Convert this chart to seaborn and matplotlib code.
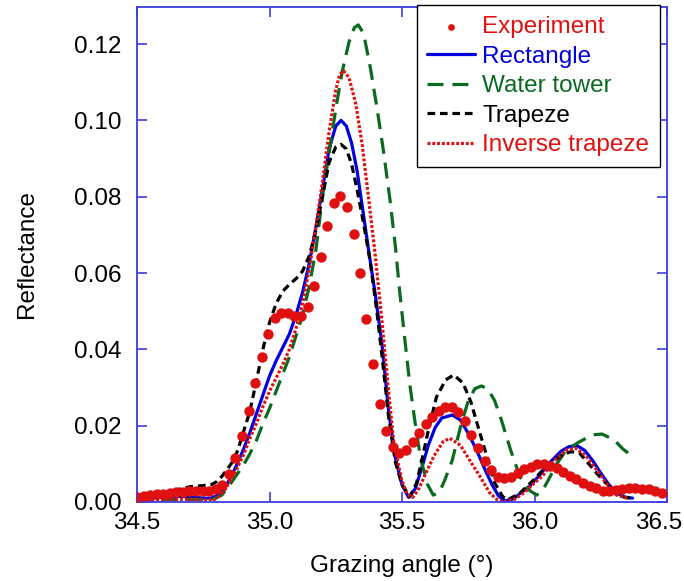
import numpy as np
import pandas as pd
import matplotlib
matplotlib.use("Agg")
import matplotlib.pyplot as plt
import matplotlib.transforms as mtransforms
import seaborn as sns

# ---------------- data ----------------
exp_x = [34.500, 34.525, 34.550, 34.574, 34.599, 34.624, 34.649, 34.673, 34.698, 34.723,
         34.748, 34.772, 34.797, 34.822, 34.847, 34.871, 34.896, 34.921, 34.946, 34.970,
         34.995, 35.020, 35.045, 35.069, 35.094, 35.119, 35.144, 35.168, 35.193, 35.218,
         35.243, 35.267, 35.292, 35.317, 35.342, 35.366, 35.391, 35.416, 35.441, 35.465,
         35.490, 35.515, 35.540, 35.564, 35.589, 35.614, 35.639, 35.663, 35.688, 35.713,
         35.738, 35.762, 35.787, 35.812, 35.837, 35.861, 35.886, 35.911, 35.936, 35.960,
         35.985, 36.010, 36.035, 36.059, 36.084, 36.109, 36.134, 36.158, 36.183, 36.208,
         36.233, 36.257, 36.282, 36.307, 36.332, 36.356, 36.381, 36.406, 36.431, 36.455,
         36.480]
exp_y = [0.0014, 0.0016, 0.0018, 0.0020, 0.0022, 0.0024, 0.0026, 0.0027, 0.0028, 0.0028,
         0.0028, 0.0030, 0.0034, 0.0045, 0.0073, 0.0116, 0.0174, 0.0239, 0.0312, 0.0381,
         0.0440, 0.0482, 0.0495, 0.0495, 0.0488, 0.0488, 0.0512, 0.0567, 0.0643, 0.0723,
         0.0783, 0.0803, 0.0772, 0.0702, 0.0599, 0.0480, 0.0362, 0.0258, 0.0186, 0.0143,
         0.0128, 0.0136, 0.0158, 0.0182, 0.0204, 0.0224, 0.0239, 0.0250, 0.0250, 0.0237,
         0.0212, 0.0176, 0.0141, 0.0107, 0.0084, 0.0066, 0.0062, 0.0066, 0.0075, 0.0086,
         0.0093, 0.0100, 0.0100, 0.0094, 0.0088, 0.0079, 0.0068, 0.0059, 0.0051, 0.0042,
         0.0036, 0.0030, 0.0030, 0.0031, 0.0033, 0.0036, 0.0036, 0.0035, 0.0033, 0.0030,
         0.0024]

rect_x = [34.50, 34.55, 34.60, 34.65, 34.70, 34.75, 34.78, 34.81, 34.83, 34.85, 34.875, 34.90,
          34.925, 34.95, 34.975, 35.00, 35.025, 35.05, 35.075, 35.10, 35.125, 35.15, 35.175,
          35.20, 35.225, 35.25, 35.27, 35.29, 35.31, 35.33, 35.35, 35.375, 35.40, 35.425,
          35.45, 35.475, 35.50, 35.525, 35.55, 35.575, 35.60, 35.625, 35.65, 35.69, 35.72,
          35.75, 35.78, 35.81, 35.84, 35.865, 35.89, 35.92, 35.95, 35.98, 36.02, 36.06, 36.10,
          36.13, 36.16, 36.19, 36.22, 36.25, 36.28, 36.31, 36.34, 36.37]
rect_y = [0.0005, 0.0009, 0.0013, 0.0015, 0.0014, 0.0010, 0.0010, 0.0020, 0.0035, 0.0060, 0.0095,
          0.0135, 0.0180, 0.0230, 0.0280, 0.0330, 0.0370, 0.0405, 0.0440, 0.0490, 0.0550, 0.0625,
          0.0720, 0.0820, 0.0925, 0.0985, 0.1000, 0.0985, 0.0940, 0.0870, 0.0775, 0.0655, 0.0540,
          0.0410, 0.0235, 0.0115, 0.0045, 0.0012, 0.0035, 0.0090, 0.0150, 0.0195, 0.0220, 0.0228,
          0.0215, 0.0180, 0.0138, 0.0090, 0.0045, 0.0015, 0.0003, 0.0008, 0.0025, 0.0040, 0.0071,
          0.0105, 0.0133, 0.0145, 0.0148, 0.0135, 0.0108, 0.0076, 0.0046, 0.0024, 0.0013, 0.0010]

water_x = [34.50, 34.60, 34.70, 34.75, 34.79, 34.82, 34.85, 34.875, 34.90, 34.925, 34.95, 34.975,
           35.00, 35.025, 35.05, 35.075, 35.10, 35.125, 35.15, 35.175, 35.20, 35.225, 35.25,
           35.275, 35.30, 35.32, 35.335, 35.355, 35.38, 35.405, 35.43, 35.455, 35.475, 35.49,
           35.51, 35.53, 35.55, 35.57, 35.595, 35.618, 35.64, 35.66, 35.69, 35.72, 35.75, 35.775,
           35.80, 35.825, 35.85, 35.875, 35.91, 35.945, 35.98, 36.008, 36.03, 36.05, 36.085,
           36.12, 36.17, 36.22, 36.255, 36.30, 36.335, 36.36]
water_y = [0.0005, 0.0006, 0.0007, 0.0007, 0.0008, 0.0018, 0.0045, 0.0070, 0.0095, 0.0125, 0.0160,
           0.0205, 0.0245, 0.0290, 0.0335, 0.0380, 0.0435, 0.0490, 0.0565, 0.0660, 0.0800, 0.0915,
           0.1030, 0.1130, 0.1205, 0.1243, 0.1250, 0.1228, 0.1140, 0.1035, 0.0920, 0.0790, 0.0670,
           0.0560, 0.0430, 0.0305, 0.0205, 0.0115, 0.0048, 0.0018, 0.0025, 0.0055, 0.0110, 0.0195,
           0.0265, 0.0297, 0.0304, 0.0295, 0.0265, 0.0215, 0.0136, 0.0066, 0.0031, 0.0018, 0.0030,
           0.0055, 0.0101, 0.0136, 0.0158, 0.0176, 0.0178, 0.0163, 0.0138, 0.0125]

trap_x = [34.50, 34.55, 34.60, 34.65, 34.70, 34.75, 34.78, 34.80, 34.82, 34.84, 34.86, 34.88,
          34.90, 34.925, 34.95, 34.975, 35.00, 35.025, 35.05, 35.075, 35.10, 35.125, 35.15,
          35.175, 35.20, 35.225, 35.25, 35.27, 35.29, 35.31, 35.33, 35.355, 35.38, 35.405,
          35.425, 35.45, 35.475, 35.50, 35.53, 35.555, 35.575, 35.60, 35.63, 35.665, 35.695,
          35.73, 35.76, 35.79, 35.82, 35.85, 35.88, 35.90, 35.945, 35.97, 36.00, 36.03, 36.07,
          36.11, 36.14, 36.17, 36.20, 36.235, 36.27, 36.31, 36.34, 36.37]
trap_y = [0.0010, 0.0015, 0.0022, 0.0032, 0.0040, 0.0043, 0.0045, 0.0053, 0.0067, 0.0085, 0.0105,
          0.0135, 0.0180, 0.0235, 0.0315, 0.0400, 0.0470, 0.0520, 0.0552, 0.0570, 0.0585, 0.0605,
          0.0645, 0.0710, 0.0800, 0.0890, 0.0930, 0.0937, 0.0925, 0.0885, 0.0820, 0.0730, 0.0630,
          0.0500, 0.0380, 0.0220, 0.0105, 0.0045, 0.0014, 0.0050, 0.0110, 0.0190, 0.0275, 0.0320,
          0.0333, 0.0312, 0.0262, 0.0190, 0.0120, 0.0050, 0.0014, 0.0006, 0.0023, 0.0040, 0.0060,
          0.0083, 0.0106, 0.0126, 0.0132, 0.0128, 0.0104, 0.0075, 0.0049, 0.0023, 0.0012, 0.0010]

inv_x = [34.50, 34.55, 34.60, 34.65, 34.70, 34.75, 34.79, 34.81, 34.83, 34.85, 34.875, 34.90,
         34.925, 34.95, 34.975, 35.00, 35.025, 35.05, 35.075, 35.10, 35.125, 35.15, 35.175,
         35.20, 35.225, 35.25, 35.265, 35.28, 35.30, 35.325, 35.35, 35.375, 35.40, 35.425,
         35.45, 35.47, 35.50, 35.52, 35.54, 35.56, 35.58, 35.62, 35.655, 35.68, 35.72, 35.755,
         35.795, 35.83, 35.86, 35.88, 35.92, 35.96, 36.00, 36.03, 36.07, 36.12, 36.155, 36.195,
         36.235, 36.27, 36.31, 36.35]
inv_y = [0.0002, 0.0003, 0.0005, 0.0007, 0.0007, 0.0005, 0.0006, 0.0015, 0.0030, 0.0053, 0.0085,
         0.0120, 0.0165, 0.0205, 0.0250, 0.0290, 0.0325, 0.0360, 0.0400, 0.0455, 0.0520, 0.0610,
         0.0720, 0.0840, 0.0970, 0.1080, 0.1120, 0.1130, 0.1112, 0.1045, 0.0935, 0.0790, 0.0640,
         0.0470, 0.0285, 0.0150, 0.0055, 0.0020, 0.0012, 0.0030, 0.0060, 0.0120, 0.0158, 0.0167,
         0.0149, 0.0110, 0.0066, 0.0025, 0.0005, 0.0000, 0.0005, 0.0024, 0.0050, 0.0068, 0.0105,
         0.0136, 0.0141, 0.0120, 0.0084, 0.0050, 0.0018, 0.0010]

labels = ["Experiment", "Rectangle", "Water tower", "Trapeze", "Inverse trapeze"]
xticks = [34.5, 35.0, 35.5, 36.0, 36.5]
yticks = [0.00, 0.02, 0.04, 0.06, 0.08, 0.10, 0.12]

# ---------------- style ----------------
RED = "#e01010"
BLUE = "#0000e0"
GREEN = "#0b6a20"
BLACK = "#000000"
AXBLUE = "#3c3ce0"
FS = 17.5

sns.set_style("ticks")
plt.rcParams['font.family'] = ['Liberation Sans', 'DejaVu Sans']
plt.rcParams['text.color'] = 'black'
plt.rcParams['axes.labelcolor'] = 'black'

fig = plt.figure(figsize=(6.84, 5.81), dpi=100)
ax = fig.add_axes([137 / 684, 1 - 502 / 581, 530 / 684, 495 / 581])

series = [
    (rect_x, rect_y, labels[1], BLUE, '-'),
    (water_x, water_y, labels[2], GREEN, (0, (5.0, 2.8))),
    (trap_x, trap_y, labels[3], BLACK, (0, (2.4, 1.5))),
    (inv_x, inv_y, labels[4], RED, (0, (0.9, 0.6))),
]
handles = {}
for xs, ys, lab, col, ls in series:
    df = pd.DataFrame({"x": xs, "y": ys})
    sns.lineplot(data=df, x="x", y="y", ax=ax, color=col, linewidth=2.3,
                 sort=False, estimator=None, label=lab)
    line = ax.lines[-1]
    line.set_linestyle(ls)
    handles[lab] = line

dfe = pd.DataFrame({"x": exp_x, "y": exp_y})
sns.scatterplot(data=dfe, x="x", y="y", ax=ax, color=RED, s=56, linewidth=0,
                label=labels[0], zorder=5)
handles[labels[0]] = ax.collections[-1]

ax.set_xlim(34.5, 36.5)
ax.set_ylim(0, 0.1297)
ax.set_xticks(xticks)
ax.set_yticks(yticks)
ax.set_xticklabels([f"{v:.1f}" for v in xticks])
ax.set_yticklabels([f"{v:.2f}" for v in yticks])

for sp in ax.spines.values():
    sp.set_visible(True)
    sp.set_color(AXBLUE)
    sp.set_linewidth(1.3)
ax.tick_params(axis='both', which='both', direction='in', length=7, width=1.2,
               color=AXBLUE, top=True, right=True, labelsize=FS, labelcolor='black')
ax.tick_params(axis='x', pad=7)
ax.tick_params(axis='y', pad=11)

# keep the last x tick label inside the canvas
last = ax.get_xticklabels()[-1]
last.set_transform(last.get_transform() +
                   mtransforms.ScaledTranslation(-8 / 100, 0, fig.dpi_scale_trans))

ax.set_xlabel("Grazing angle (°)", fontsize=FS, labelpad=15, color='black')
ax.set_ylabel("Reflectance", fontsize=FS, labelpad=26, color='black')

leg = ax.legend([handles[l] for l in labels], labels, loc='upper right',
                bbox_to_anchor=(0.987, 1.004), fontsize=FS, frameon=True,
                fancybox=False, edgecolor='black', framealpha=1,
                handlelength=1.95, handletextpad=0.3, labelspacing=0.31,
                borderpad=0.45, borderaxespad=0, markerscale=0.65, scatterpoints=1)
leg.get_frame().set_linewidth(1.0)
for txt, col in zip(leg.get_texts(), [RED, BLUE, GREEN, BLACK, RED]):
    txt.set_color(col)

fig.savefig("out.png", dpi=100)
